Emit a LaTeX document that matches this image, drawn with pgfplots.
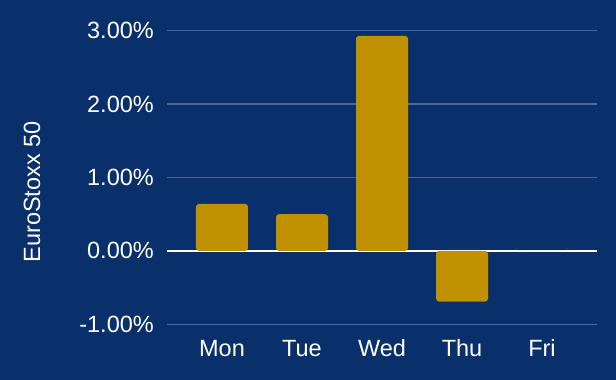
\documentclass[border=0pt]{standalone}
\usepackage{fontspec}
\setmainfont{Liberation Sans}
\usepackage{pgfplots}
\pgfplotsset{compat=1.18}
\definecolor{bg}{RGB}{9,48,106}
\definecolor{gold}{RGB}{191,144,0}
\definecolor{gridc}{RGB}{76,104,150}
\begin{document}
\begin{tikzpicture}
\fill[bg] (-167pt,-55.7pt) rectangle (449pt,324.3pt);
\begin{axis}[
  at={(0,0)}, anchor=south west,
  scale only axis, width=430pt, height=293.6pt,
  xmin=-0.6875, xmax=4.6875, ymin=-1, ymax=3,
  axis line style={draw=none},
  major tick style={draw=none},
  major tick length=0pt,
  ytick={-1,0,1,2,3},
  yticklabels={-1.00\%,0.00\%,1.00\%,2.00\%,3.00\%},
  xtick={0,1,2,3,4},
  xticklabels={Mon,Tue,Wed,Thu,Fri},
  ymajorgrids,
  grid style={gridc, line width=1.5pt},
  extra y ticks={0},
  extra y tick labels={},
  extra y tick style={grid style={white, line width=2pt}},
  tick label style={font=\fontsize{23.5}{28}\selectfont, text=white},
  yticklabel style={anchor=east, inner sep=0pt, xshift=-13pt},
  xticklabel style={anchor=base, inner sep=0pt, yshift=-31.7pt},
  every axis y label/.style={at={(axis description cs:-0.31395,0.4506)}, rotate=90, anchor=center, inner sep=0pt, font=\fontsize{23.5}{28}\selectfont, text=white},
  ylabel={EuroStoxx 50},
  ybar, bar width=52pt, bar shift=0pt,
]
\addplot[fill=gold, draw=none, rounded corners=3pt] coordinates {(0,0.64) (1,0.50) (2,2.93) (3,-0.69) (4,0)};
\end{axis}
\pgfresetboundingbox
\useasboundingbox (-167pt,-55.7pt) rectangle (449pt,324.3pt);
\end{tikzpicture}
\end{document}
